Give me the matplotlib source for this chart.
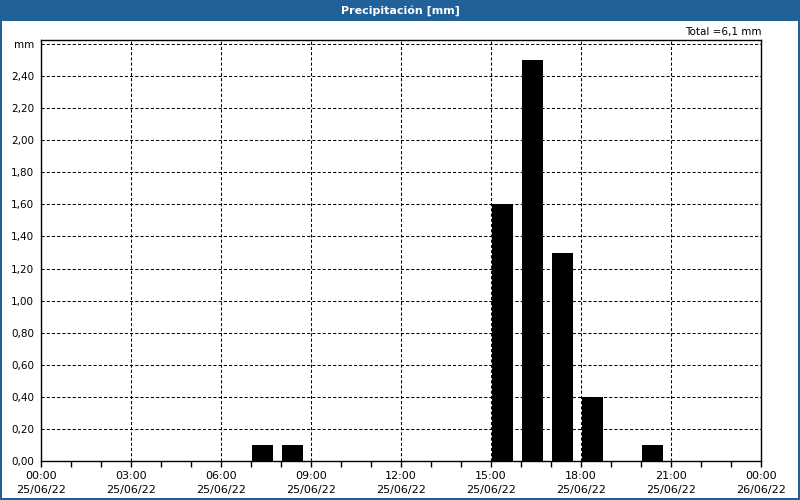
import matplotlib
matplotlib.use("Agg")
import matplotlib.pyplot as plt
from matplotlib.patches import Rectangle
from matplotlib.ticker import MultipleLocator

hours = [7, 8, 15, 16, 17, 18, 20]
precip = [0.1, 0.1, 1.6, 2.5, 1.3, 0.4, 0.1]
xtick_hours = [0, 3, 6, 9, 12, 15, 18, 21, 24]
xtick_labels = ["00:00\n25/06/22", "03:00\n25/06/22", "06:00\n25/06/22", "09:00\n25/06/22",
                "12:00\n25/06/22", "15:00\n25/06/22", "18:00\n25/06/22", "21:00\n25/06/22",
                "00:00\n26/06/22"]
yticks = [0.0, 0.2, 0.4, 0.6, 0.8, 1.0, 1.2, 1.4, 1.6, 1.8, 2.0, 2.2, 2.4, 2.6]
title = "Precipitación [mm]"
total_text = "Total =6,1 mm"

W, H = 800, 500
fig = plt.figure(figsize=(8, 5), dpi=100)
fig.patch.set_facecolor("white")
blue = "#1f6198"

# title bar and border strips
for (x0, y0, w, h) in [(0, H - 21, W, 21), (0, 0, 2, H), (W - 2, 0, 2, H), (0, 0, W, 2)]:
    fig.add_artist(Rectangle((x0 / W, y0 / H), w / W, h / H, transform=fig.transFigure,
                             facecolor=blue, edgecolor="none", zorder=0))
fig.text(0.5, 1 - 10.5 / H, title, color="white", fontsize=8, fontweight="bold",
         ha="center", va="center")
fig.text(762 / W, 1 - 32 / H, total_text, color="black", fontsize=7.5, ha="right", va="center")

ax = fig.add_axes([41 / W, (H - 461) / H, 720 / W, 421 / H])
ax.bar([h + 0.04 for h in hours], precip, width=0.68, align="edge", color="black", zorder=3)
ax.set_xlim(0, 24)
ax.set_ylim(0, 2.625)
ax.set_xticks(xtick_hours)
ax.set_xticklabels(xtick_labels, fontsize=8, linespacing=1.55)
ax.xaxis.set_minor_locator(MultipleLocator(1))
ax.set_yticks(yticks)
ylabels = [f"{v:.2f}".replace(".", ",") for v in yticks[:-1]] + ["mm"]
ax.set_yticklabels(ylabels, fontsize=7.5)
ax.tick_params(axis="both", which="major", length=4, width=1, color="black", pad=3)
ax.tick_params(axis="x", which="minor", length=4, width=1, color="black")
ax.tick_params(axis="y", length=0, pad=5)
ax.grid(True, which="major", linestyle=(0, (3, 2)), color="black", linewidth=0.75, zorder=1)
for s in ax.spines.values():
    s.set_color("black")
    s.set_linewidth(1.0)

fig.savefig("out.png", dpi=100)
